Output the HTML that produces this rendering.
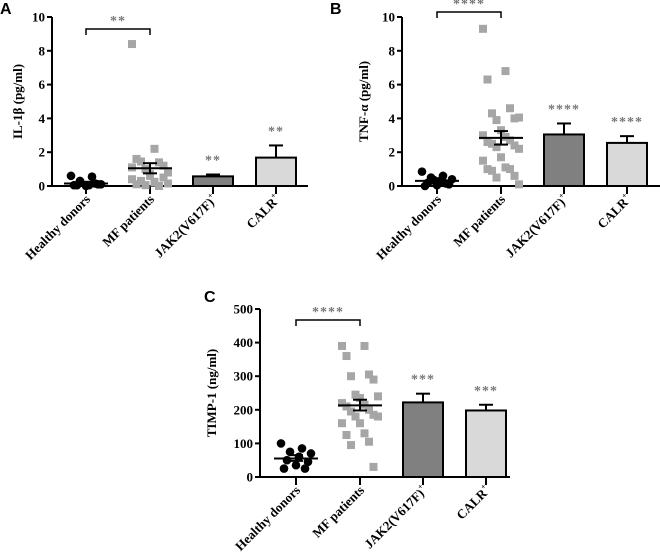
<!DOCTYPE html>
<html><head><meta charset="utf-8"><style>
html,body{margin:0;padding:0;background:#fff;width:660px;height:555px;overflow:hidden}
svg text{font-family:"Liberation Serif",serif;font-weight:bold}
</style></head><body>
<svg id="s" width="660" height="555" xmlns="http://www.w3.org/2000/svg"></svg>
<script>
const s=document.getElementById('s');let h='';
function panel(o){
 const Y=v=>o.y0-(v/o.ymax)*(o.y0-o.yt);
 h+=`<line x1="${o.ax}" y1="${o.yt}" x2="${o.ax}" y2="${o.y0}" stroke="#000" stroke-width="2"/>`;
 h+=`<line x1="${o.ax-1}" y1="${o.y0}" x2="${o.xe}" y2="${o.y0}" stroke="#000" stroke-width="2"/>`;
 o.ticks.forEach(t=>{const y=Y(t);h+=`<line x1="${o.ax-5}" y1="${y}" x2="${o.ax}" y2="${y}" stroke="#000" stroke-width="2"/><text x="${o.ax-7}" y="${y+4.5}" font-size="13" text-anchor="end">${t}</text>`;});
 h+=`<text transform="translate(${o.lx},${(o.yt+o.y0)/2}) rotate(-90)" font-size="13" text-anchor="middle">${o.ylab}</text>`;
 h+=`<text x="${o.px}" y="${o.py}" font-size="16" style="font-family:'Liberation Sans',sans-serif;font-weight:bold">${o.L}</text>`;
 const names=['Healthy donors','MF patients','JAK2(V617F)<tspan font-size="8" dy="-6">+</tspan>','CALR<tspan font-size="8" dy="-6">+</tspan>'];
 o.cx.forEach((x,i)=>{h+=`<line x1="${x}" y1="${o.y0}" x2="${x}" y2="${o.y0+8}" stroke="#000" stroke-width="2"/>`;
  h+=`<text transform="translate(${x+5},${o.y0+14}) rotate(-45)" font-size="13" text-anchor="end">${names[i]}</text>`;});
 [[2,o.b1,'#808080'],[3,o.b2,'#d9d9d9']].forEach(([i,b,c])=>{const x=o.cx[i];
  h+=`<line x1="${x}" y1="${Y(b[0])}" x2="${x}" y2="${Y(b[1])}" stroke="#000" stroke-width="2"/><line x1="${x-7}" y1="${Y(b[1])}" x2="${x+7}" y2="${Y(b[1])}" stroke="#000" stroke-width="2"/>`;
  h+=`<rect x="${x-20}" y="${Y(b[0])}" width="40" height="${o.y0-Y(b[0])}" fill="${c}" stroke="#000" stroke-width="2"/>`;
  h+=`<text x="${x}" y="${Y(b[1])-10}" font-size="14" fill="#777" text-anchor="middle" letter-spacing="1">${b[2]}</text>`;});
 o.hd.forEach((v,k)=>{const dx=((k*7)%11-5)*3;h+=`<circle cx="${o.cx[0]+dx}" cy="${Y(v)}" r="4.3" fill="#000"/>`;});
 o.mf.forEach((v,k)=>{const dx=((k*5)%9-4)*4.5;h+=`<rect x="${o.cx[1]+dx-4}" y="${Y(v)-4}" width="8" height="8" fill="#a6a6a6"/>`;});
 [[0,o.hm],[1,o.mm]].forEach(([i,m])=>{const x=o.cx[i];
  h+=`<line x1="${x-22}" y1="${Y(m[0])}" x2="${x+22}" y2="${Y(m[0])}" stroke="#000" stroke-width="2"/>`;
  h+=`<line x1="${x}" y1="${Y(m[1])}" x2="${x}" y2="${Y(m[2])}" stroke="#000" stroke-width="2"/>`;
  h+=`<line x1="${x-7}" y1="${Y(m[1])}" x2="${x+7}" y2="${Y(m[1])}" stroke="#000" stroke-width="2"/><line x1="${x-7}" y1="${Y(m[2])}" x2="${x+7}" y2="${Y(m[2])}" stroke="#000" stroke-width="2"/>`;});
 h+=`<path d="M${o.cx[0]} ${o.by+6} V${o.by} H${o.cx[1]} V${o.by+6}" fill="none" stroke="#000" stroke-width="1.5"/>`;
 h+=`<text x="${(o.cx[0]+o.cx[1])/2}" y="${o.by-4}" font-size="14" fill="#777" text-anchor="middle" letter-spacing="1">${o.bs}</text>`;
}
panel({L:'A',px:0,py:14,ax:52,y0:186,yt:17,ymax:10,xe:308,ticks:[0,2,4,6,8,10],lx:22,ylab:'IL-1β (pg/ml)',
 cx:[86,150,213,276],b1:[0.57,0.68,'**'],b2:[1.68,2.4,'**'],
 hd:[0.6,0.55,0.3,0.1,0.05,0.05,0.1,0.0,0.05,0.15],hm:[0.15,0.25,0.05],
 mf:[8.4,2.2,1.6,1.4,1.45,1.2,1.0,0.8,0.6,0.4,0.2,0.1,0.0,0.3,0.5,0.05,0.15,0.7,1.1,0.25],mm:[1.05,1.35,0.75],by:29,bs:'**'});
panel({L:'B',px:330,py:14,ax:402,y0:186,yt:17,ymax:10,xe:660,ticks:[0,2,4,6,8,10],lx:368,ylab:'TNF-α (pg/ml)',
 cx:[437,501,564,627],b1:[3.05,3.7,'****'],b2:[2.55,2.95,'****'],
 hd:[0.85,0.6,0.5,0.4,0.3,0.2,0.1,0.05,0.0,0.15,0.35],hm:[0.3,0.45,0.15],
 mf:[9.3,6.8,6.3,4.6,4.3,4.0,3.9,4.05,3.3,3.0,2.9,2.6,2.7,2.5,2.4,2.3,2.2,1.7,1.5,1.1,1.0,1.0,0.9,0.6,0.5,0.1],mm:[2.85,3.25,2.45],by:12,bs:'****'});
panel({L:'C',px:204,py:302,ax:260,y0:477,yt:309,ymax:500,xe:510,ticks:[0,100,200,300,400,500],lx:216,ylab:'TIMP-1 (ng/ml)',
 cx:[296,360,423,486],b1:[222,248,'***'],b2:[198,215,'***'],
 hd:[100,85,75,70,60,50,45,35,25,25],hm:[55,65,48],
 mf:[390,390,360,305,300,290,245,240,235,220,215,210,200,195,185,180,180,160,160,130,125,105,95,30],mm:[213,230,198],by:320,bs:'****'});
s.innerHTML=h;
</script>
</body></html>
